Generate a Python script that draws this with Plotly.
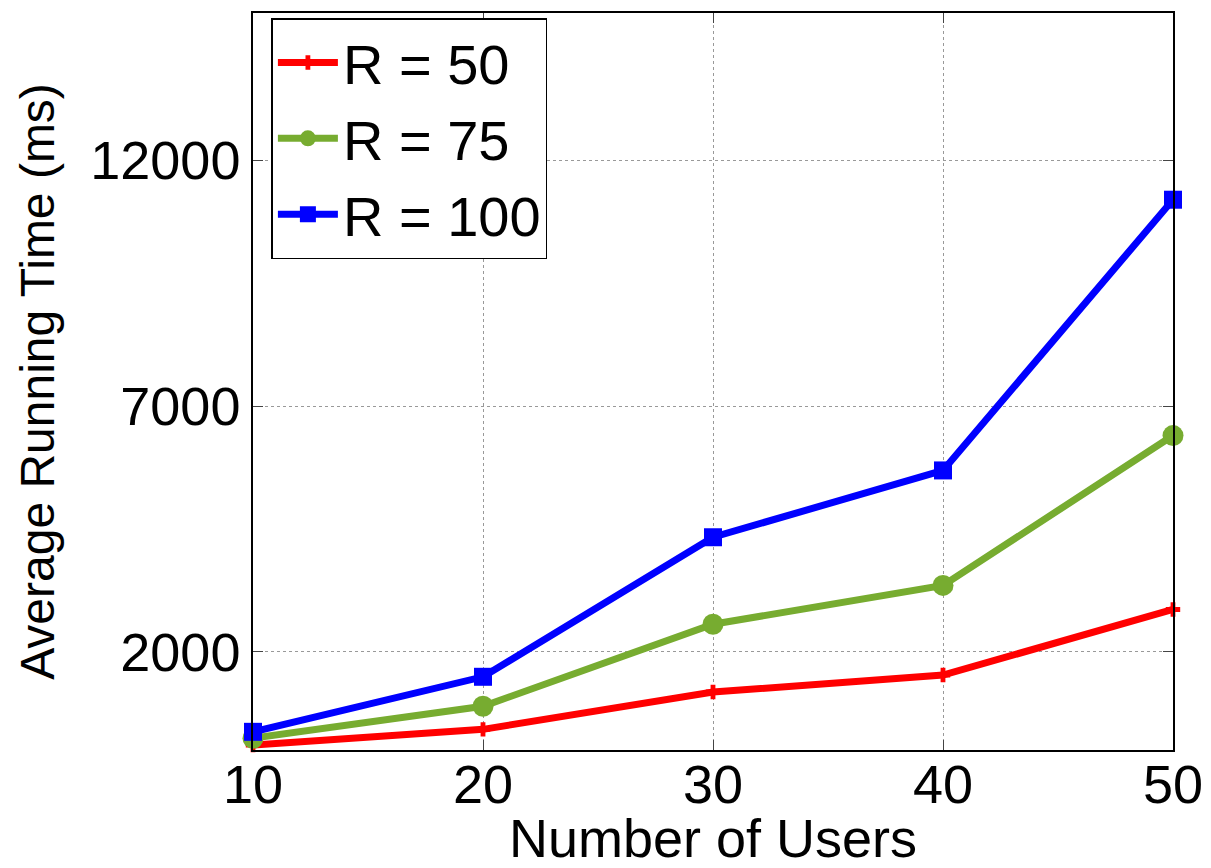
import plotly.graph_objects as go

users = [10, 20, 30, 40, 50]
r50 = [100, 420, 1180, 1525, 2860]
r75 = [240, 890, 2560, 3350, 6400]
r100 = [370, 1490, 4330, 5690, 11200]
series_names = ["R = 50", "R = 75", "R = 100"]
y_ticks = [2000, 7000, 12000]
x_ticks = [10, 20, 30, 40, 50]

fig = go.Figure()
fig.add_trace(go.Scatter(x=users, y=r50, name=series_names[0], mode="lines+markers",
                         line=dict(color="#ff0000", width=7),
                         marker=dict(symbol="cross", size=12, color="#ff0000"),
                         cliponaxis=False))
fig.add_trace(go.Scatter(x=users, y=r75, name=series_names[1], mode="lines+markers",
                         line=dict(color="#77ac30", width=7),
                         marker=dict(symbol="circle", size=21, color="#77ac30"),
                         cliponaxis=False))
fig.add_trace(go.Scatter(x=users, y=r100, name=series_names[2], mode="lines+markers",
                         line=dict(color="#0000ff", width=7),
                         marker=dict(symbol="square", size=18, color="#0000ff"),
                         cliponaxis=False))

font_family = "Liberation Sans, Arial, sans-serif"
fig.update_layout(
    width=1203, height=860,
    margin=dict(l=245, r=38, t=5, b=118),
    plot_bgcolor="white", paper_bgcolor="white",
    font=dict(family=font_family, color="black", size=48),
    showlegend=True,
    legend=dict(x=0.02, y=0.993, xanchor="left", yanchor="top",
                bgcolor="white", bordercolor="black", borderwidth=1.5,
                font=dict(size=56), tracegroupgap=0, itemwidth=60),
    xaxis=dict(range=[10, 50], tickvals=x_ticks, ticks="inside", ticklen=10,
               showline=True, linecolor="black", linewidth=1.5, mirror="ticks",
               showgrid=True, gridcolor="#999999", griddash="dot", gridwidth=1,
               zeroline=False, tickfont=dict(size=54), automargin=False,
               ticklabelstandoff=-14,
               title=dict(text="Number of Users", font=dict(size=54), standoff=4)),
    yaxis=dict(range=[0, 15000], tickvals=y_ticks, tickformat="d", ticks="inside", ticklen=10,
               showline=True, linecolor="black", linewidth=1.5, mirror="ticks",
               showgrid=True, gridcolor="#999999", griddash="dot", gridwidth=1,
               zeroline=False, tickfont=dict(size=54), automargin=False,
               title=dict(text="Average Running Time (ms)", font=dict(size=48), standoff=20)),
)

fig.write_html("out.html")
